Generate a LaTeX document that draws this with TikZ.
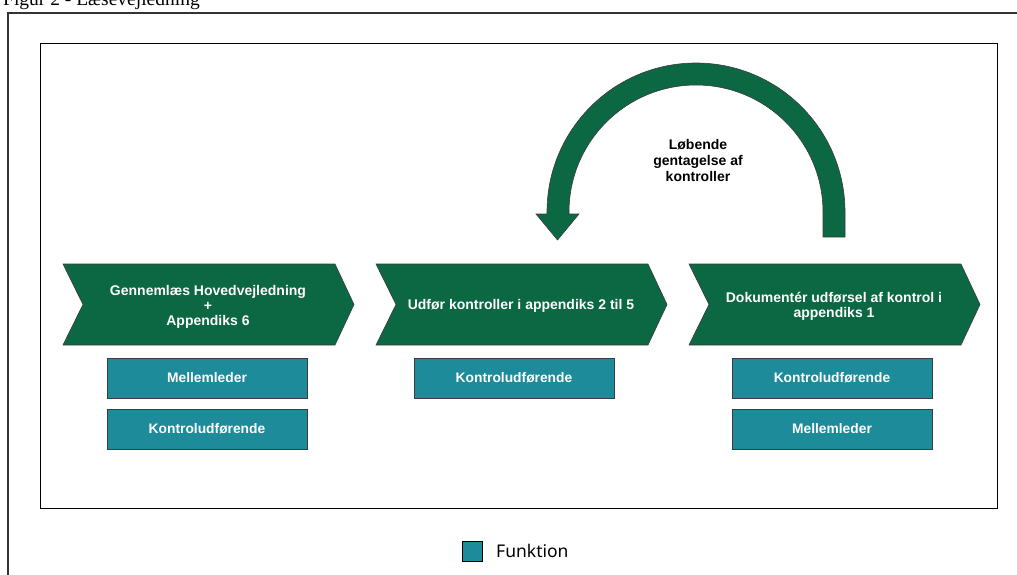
\documentclass[tikz,border=0pt]{standalone}
\usepackage{fontspec}
\setmainfont{Liberation Sans}
\newfontfamily\capfont{Liberation Serif}
\newfontfamily\legfont{Noto Sans}
\definecolor{procgreen}{RGB}{11,104,66}
\definecolor{roleteal}{RGB}{30,139,155}
\definecolor{edgegray}{RGB}{60,60,60}
\begin{document}
\begin{tikzpicture}[x=1pt,y=-1pt,
  chevron/.style={fill=procgreen,draw=edgegray,line width=0.6pt},
  steptext/.style={text=white,font=\bfseries\fontsize{14}{15}\selectfont,align=center},
  rolebox/.style={fill=roleteal,draw=edgegray,line width=0.8pt,minimum width=200pt,minimum height=40pt,
    text=white,font=\bfseries\fontsize{13.8}{15}\selectfont,inner sep=0pt},
  looparrow/.style={fill=procgreen,draw=edgegray,line width=0.6pt}]
\useasboundingbox (0,0) rectangle (1017,574);
\begin{scope}
\clip (0,0) rectangle (1017,574);
% caption, only partly inside the page
\node[anchor=base west,inner sep=0pt,font=\capfont\fontsize{19.5}{22}\selectfont] (caption) at (3,5.5) {Figur 2 - Læsevejledning};
% outer frame
\draw[line width=1.6pt,draw=black!80] (8,590) -- (8,13) -- (1030,13);
\end{scope}
% inner frame
\draw[line width=0.8pt] (40,43) rectangle (997,508);

% process chevrons
\foreach \x in {63,376,689}{
  \draw[chevron] (\x,264) -- (\x+272,264) -- (\x+291,304.5) -- (\x+272,345) -- (\x,345) -- (\x+20,304.5) -- cycle;
}
\node[steptext] (s1) at (208,306.5) {Gennemlæs Hovedvejledning\\+\\Appendiks 6};
\node[steptext] (s2) at (521,305.5) {Udfør kontroller i appendiks 2 til 5};
\node[steptext] (s3) at (834,306.5) {Dokumentér udførsel af kontrol i\\appendiks 1};

% roles
\node[rolebox] (r1a) at (207,378) {Mellemleder};
\node[rolebox] (r1b) at (207,429) {Kontroludførende};
\node[rolebox] (r2a) at (514,378) {Kontroludførende};
\node[rolebox] (r3a) at (832,378) {Kontroludførende};
\node[rolebox] (r3b) at (832,429) {Mellemleder};

% repetition loop arrow
\draw[looparrow] (845,237) -- (845,212) arc[start angle=0,end angle=-180,radius=149]
  -- (547,214) -- (536,214) -- (557.5,240) -- (579,214) -- (569,214) -- (569,212)
  arc[start angle=-180,end angle=0,radius=127] -- (823,237) -- cycle;
\node[font=\bfseries\fontsize{14}{16}\selectfont,align=center] (loop) at (698,160.5) {Løbende\\gentagelse af\\kontroller};

% legend
\node[fill=roleteal,draw=black,line width=0.8pt,minimum width=20pt,minimum height=20pt,inner sep=0pt] (legbox) at (472.5,551) {};
\node[anchor=west,inner sep=0pt,font=\legfont\fontsize{17.5}{20}\selectfont] (legtext) at (496,551) {Funktion};
\end{tikzpicture}
\end{document}
